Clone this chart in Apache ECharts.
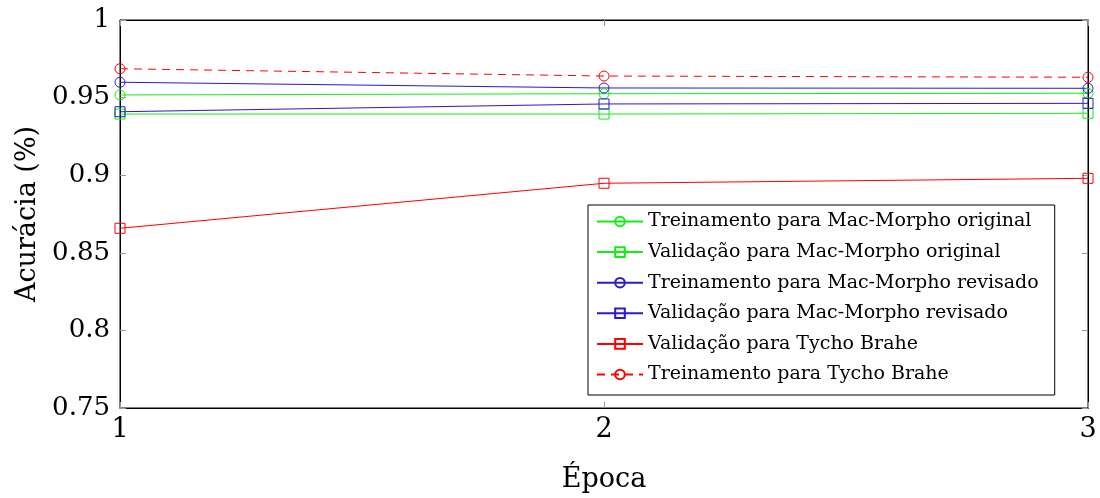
<!DOCTYPE html>
<html>
<head>
<meta charset="utf-8">
<script src="https://cdn.jsdelivr.net/npm/echarts@6/dist/echarts.min.js"></script>
<style>
  html, body { margin: 0; padding: 0; background: #fff; }
  #chart { width: 1100px; height: 498px; }
</style>
</head>
<body>
<div id="chart"></div>
<script>
// epochs
const epocas = [1, 2, 3]
// accuracy values
const treinoOriginal = [0.9517, 0.9525, 0.9528]
const validOriginal = [0.9394, 0.9394, 0.9399]
const treinoRevisado = [0.9599, 0.9562, 0.956]
const validRevisado = [0.9409, 0.9459, 0.9463]
const validTycho = [0.8658, 0.8948, 0.898]
const treinoTycho = [0.9686, 0.9639, 0.9631]

const serif = 'DejaVu Serif'

function pares(vals) {
  return epocas.map((e, i) => [e, vals[i]])
}

// hollow markers, the line shows through like in pgfplots
function serie(name, vals, color, symbol, dashed) {
  return {
    name: name,
    type: 'line',
    data: pares(vals),
    symbol: symbol,
    symbolSize: 10,
    showAllSymbol: true,
    itemStyle: { color: 'rgba(255,255,255,0)', borderColor: color, borderWidth: 1 },
    lineStyle: { color: color, width: 1, type: dashed ? [8, 6] : 'solid' },
    emphasis: { disabled: true },
    animation: false
  }
}

const chart = echarts.init(document.getElementById('chart'))

const tickStyle = { show: true, inside: true, length: 6, lineStyle: { color: '#999', width: 1 } }

chart.setOption({
  backgroundColor: '#fff',
  grid: {
    left: 120,
    right: 12,
    top: 20,
    bottom: 90,
    containLabel: false,
    outerBoundsMode: 'none',
    show: true,
    borderColor: '#000',
    borderWidth: 1
  },
  legend: {
    orient: 'vertical',
    left: 588,
    top: 205,
    padding: [7, 16, 11, 8],
    itemGap: 11.6,
    itemWidth: 46,
    itemHeight: 12,
    backgroundColor: '#fff',
    borderColor: '#000',
    borderWidth: 1,
    textStyle: { fontFamily: serif, fontSize: 19, color: '#000', lineHeight: 19 },
    data: [
      'Treinamento para Mac-Morpho original',
      'Validação para Mac-Morpho original',
      'Treinamento para Mac-Morpho revisado',
      'Validação para Mac-Morpho revisado',
      'Validação para Tycho Brahe',
      'Treinamento para Tycho Brahe'
    ]
  },
  xAxis: [
    {
      type: 'value',
      min: 1,
      max: 3,
      interval: 1,
      name: 'Época',
      nameLocation: 'middle',
      nameGap: 58,
      nameTextStyle: { fontFamily: serif, fontSize: 27, color: '#000' },
      axisLine: { show: true, onZero: false, lineStyle: { color: '#000' } },
      axisTick: tickStyle,
      axisLabel: { fontFamily: serif, fontSize: 27, color: '#000', margin: 8 },
      splitLine: { show: false }
    },
    {
      type: 'value',
      position: 'top',
      min: 1,
      max: 3,
      interval: 1,
      axisLine: { show: true, onZero: false, lineStyle: { color: '#000' } },
      axisTick: tickStyle,
      axisLabel: { show: false },
      splitLine: { show: false }
    }
  ],
  yAxis: [
    {
      type: 'value',
      min: 0.75,
      max: 1,
      interval: 0.05,
      name: 'Acurácia (%)',
      nameLocation: 'middle',
      nameGap: 78,
      nameTextStyle: { fontFamily: serif, fontSize: 27, color: '#000' },
      axisLine: { show: true, onZero: false, lineStyle: { color: '#000' } },
      axisTick: tickStyle,
      axisLabel: {
        fontFamily: serif,
        fontSize: 26,
        color: '#000',
        margin: 10,
        formatter: v => String(parseFloat(v.toFixed(2)))
      },
      splitLine: { show: false }
    },
    {
      type: 'value',
      position: 'right',
      min: 0.75,
      max: 1,
      interval: 0.05,
      axisLine: { show: true, onZero: false, lineStyle: { color: '#000' } },
      axisTick: tickStyle,
      axisLabel: { show: false },
      splitLine: { show: false }
    }
  ],
  series: [
    serie('Treinamento para Mac-Morpho original', treinoOriginal, '#11ee11', 'circle', false),
    serie('Validação para Mac-Morpho original', validOriginal, '#11ee11', 'rect', false),
    serie('Treinamento para Mac-Morpho revisado', treinoRevisado, '#2a1ad0', 'circle', false),
    serie('Validação para Mac-Morpho revisado', validRevisado, '#2a1ad0', 'rect', false),
    serie('Validação para Tycho Brahe', validTycho, '#ff0000', 'rect', false),
    serie('Treinamento para Tycho Brahe', treinoTycho, '#ff0000', 'circle', true)
  ]
})
</script>
</body>
</html>
